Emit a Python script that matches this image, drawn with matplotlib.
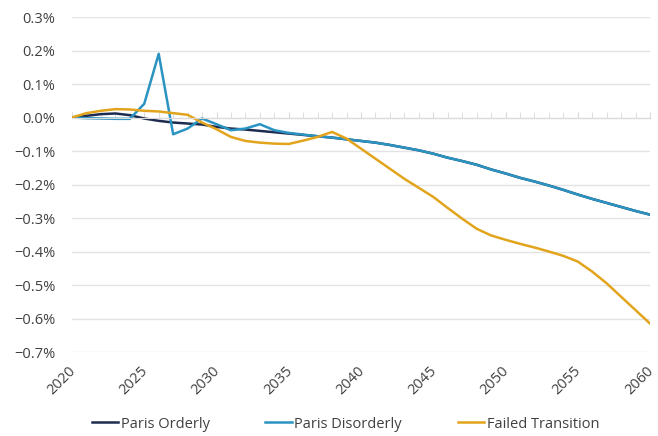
import matplotlib
matplotlib.use("Agg")
import matplotlib.pyplot as plt
import matplotlib.transforms as mtransforms
from matplotlib.ticker import MultipleLocator, FuncFormatter

years = list(range(2020, 2061))

paris_orderly = [0.000, 0.005, 0.010, 0.012, 0.007, -0.003, -0.010, -0.015, -0.018, -0.021,
                 -0.028, -0.033, -0.036, -0.040, -0.044, -0.048, -0.052, -0.056, -0.060, -0.065,
                 -0.070, -0.075, -0.082, -0.090, -0.098, -0.108, -0.120, -0.130, -0.141, -0.155,
                 -0.167, -0.180, -0.191, -0.203, -0.216, -0.230, -0.243, -0.255, -0.267, -0.279,
                 -0.290]

paris_disorderly = [0.000, -0.002, -0.003, -0.004, -0.004, 0.041, 0.190, -0.050, -0.033, -0.003,
                    -0.020, -0.038, -0.033, -0.020, -0.038, -0.046, -0.051, -0.056, -0.060, -0.065,
                    -0.070, -0.075, -0.082, -0.090, -0.098, -0.108, -0.120, -0.130, -0.141, -0.155,
                    -0.167, -0.180, -0.191, -0.203, -0.216, -0.230, -0.243, -0.255, -0.267, -0.279,
                    -0.290]

failed_transition = [0.000, 0.013, 0.020, 0.025, 0.024, 0.020, 0.018, 0.013, 0.008, -0.015,
                     -0.035, -0.058, -0.070, -0.075, -0.078, -0.079, -0.069, -0.058, -0.043, -0.063,
                     -0.093, -0.123, -0.153, -0.183, -0.210, -0.237, -0.270, -0.302, -0.332, -0.352,
                     -0.365, -0.377, -0.388, -0.400, -0.413, -0.430, -0.460, -0.495, -0.535, -0.575,
                     -0.615]

series_names = ["Paris Orderly", "Paris Disorderly", "Failed Transition"]
colors = ["#1c2b4f", "#2a93c1", "#e2a41c"]
xtick_years = list(range(2020, 2061, 5))

plt.rcParams['font.family'] = ['Open Sans', 'DejaVu Sans']
text_color = "#404040"

fig = plt.figure(figsize=(6.58, 4.36), dpi=100)
ax = fig.add_axes([72/658, 1-352/436, (650-72)/658, (352-17)/436])

for name, vals, c in zip(series_names, [paris_orderly, paris_disorderly, failed_transition], colors):
    ax.plot(years, vals, color=c, lw=1.8, label=name)

ax.set_xlim(2020, 2060)
ax.set_ylim(-0.7, 0.3)
ax.yaxis.set_major_locator(MultipleLocator(0.1))
ax.yaxis.set_major_formatter(FuncFormatter(
    lambda v, p: (f"{v:.1f}%".replace("-", "\u2212")) if abs(v) > 1e-9 else "0.0%"))
ax.grid(axis='y', color='#e3e3e3', lw=1.0)
ax.set_axisbelow(True)
for s in ['top', 'right', 'left']:
    ax.spines[s].set_visible(False)
ax.spines['bottom'].set_position(('data', 0))
ax.spines['bottom'].set_color('#d9d9d9')
ax.xaxis.set_major_locator(MultipleLocator(5))
ax.xaxis.set_minor_locator(MultipleLocator(1))
ax.tick_params(axis='x', which='both', direction='in', length=4, color='#d9d9d9', labelbottom=False)
ax.tick_params(axis='y', length=0, labelsize=10.5, labelcolor=text_color, pad=12)

sec = ax.secondary_xaxis('bottom')
sec.set_xticks(xtick_years)
sec.tick_params(length=0, labelsize=10.5, labelcolor=text_color, pad=8)
sec.spines['bottom'].set_visible(False)
offset = mtransforms.ScaledTranslation(-4/100, 0, fig.dpi_scale_trans)
for lab in sec.get_xticklabels():
    lab.set_rotation(45)
    lab.set_ha('right')
    lab.set_rotation_mode('anchor')
    lab.set_transform(lab.get_transform() + offset)

handles, labels = ax.get_legend_handles_labels()
fig.legend(handles, labels, loc='center', bbox_to_anchor=(0.525, 1-424/436), ncol=3, frameon=False,
           handlelength=1.8, handletextpad=0.2, columnspacing=3.8, fontsize=10.5, labelcolor=text_color)

fig.savefig("out.png", dpi=100)
